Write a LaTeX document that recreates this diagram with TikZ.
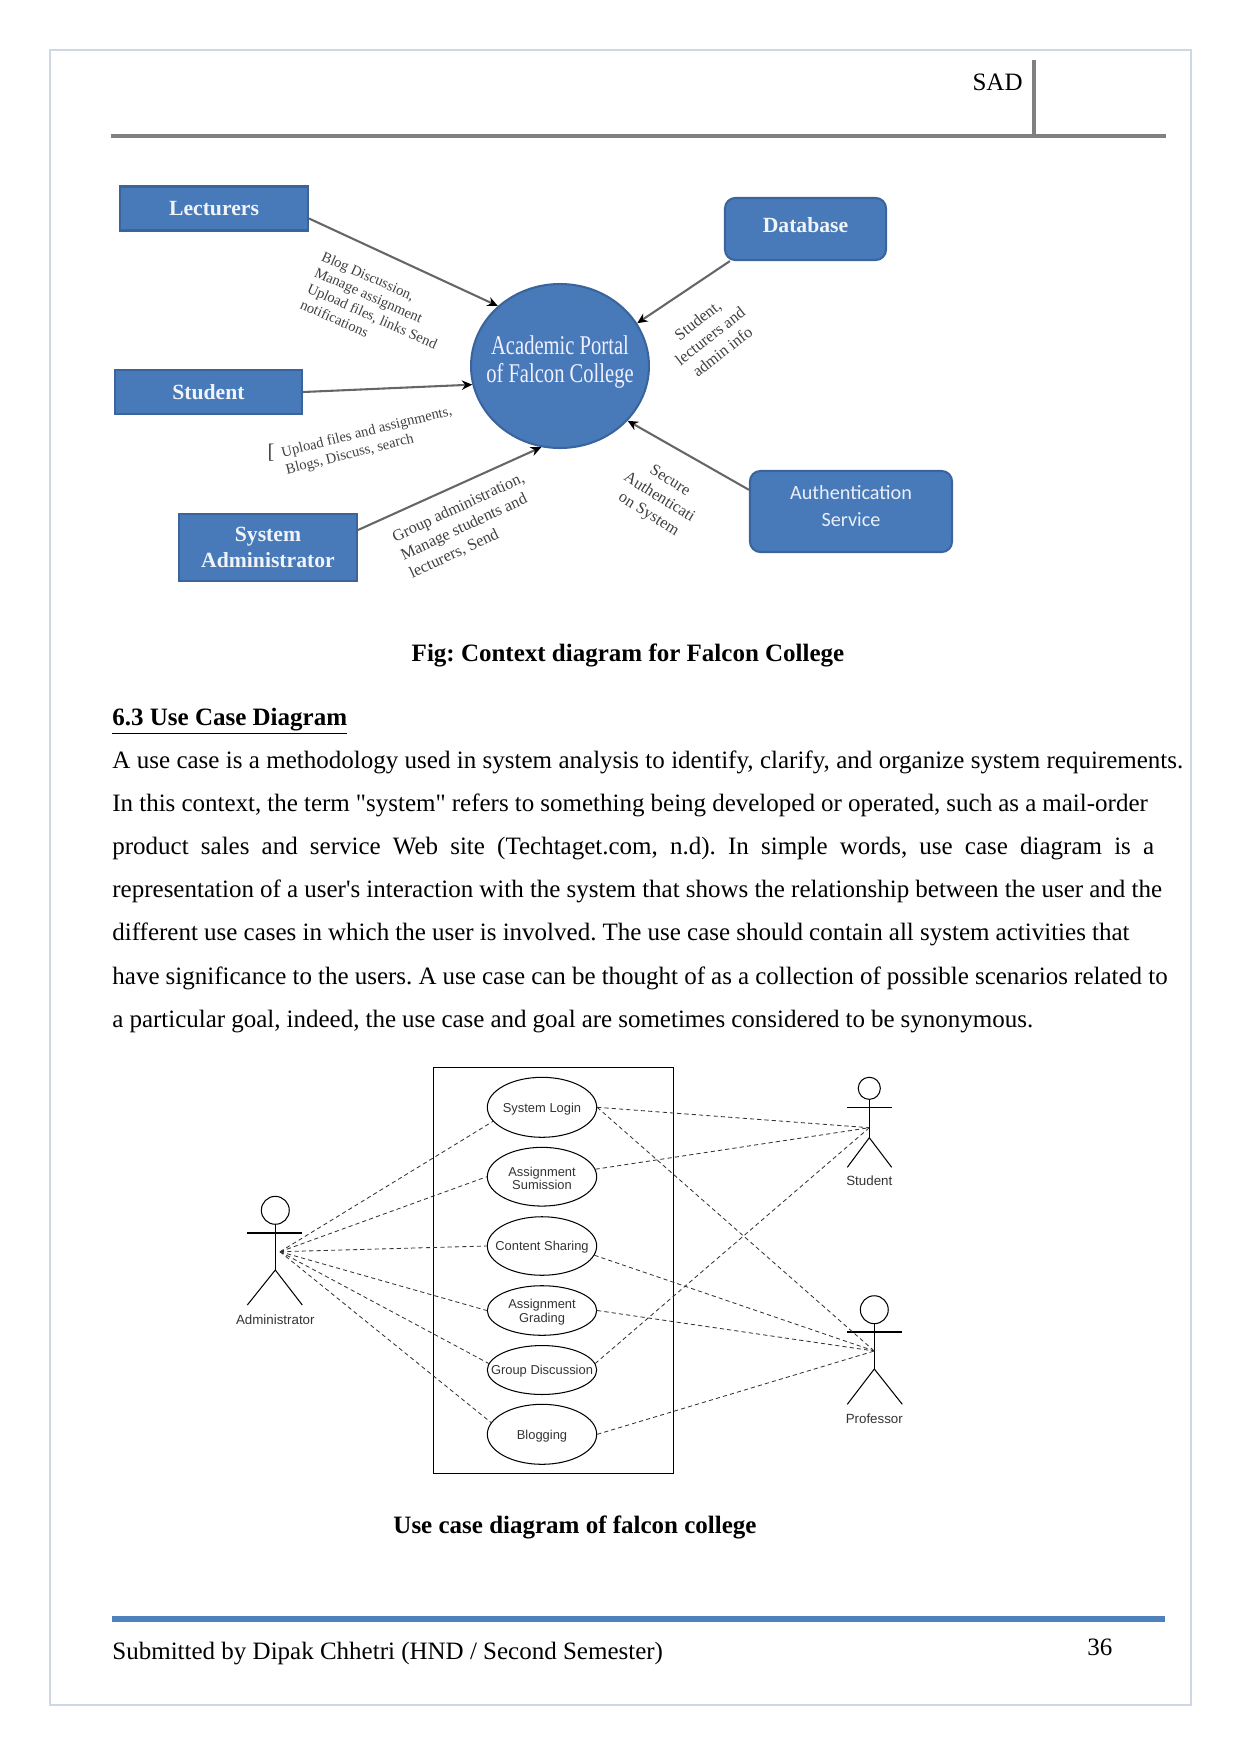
\documentclass[tikz,border=0pt]{standalone}
\usepackage{fontspec}
\setmainfont{Liberation Serif}[Ligatures=TeXOff]
\newfontfamily\portalfont[FakeStretch=0.76]{Liberation Serif}
\newfontfamily\umlfont{Liberation Sans}
\newfontfamily\authfont{Carlito}
\usetikzlibrary{arrows.meta,shapes.geometric}
\frenchspacing
\newcommand{\bodyline}[2]{\makebox[#1pt][s]{#2}}
\definecolor{boxblue}{RGB}{72,122,186}
\definecolor{boxedge}{RGB}{58,100,156}
\definecolor{pageedge}{RGB}{205,216,228}
\definecolor{rulegray}{RGB}{128,128,128}
\definecolor{barblue}{RGB}{79,129,189}
\tikzset{
  bodytext/.style={anchor=base west, inner sep=0pt, font=\fontsize{12}{14}\selectfont},
  captext/.style={inner sep=0pt, font=\fontsize{12}{14}\selectfont\bfseries},
  actorbox/.style={draw=boxedge, fill=boxblue, line width=1pt, text=white!92!boxblue, align=center, inner sep=0pt, font=\fontsize{10.4}{12.5}\selectfont\bfseries},
  servicebox/.style={actorbox, rounded corners=5pt},
  flowlabel/.style={align=left, inner sep=0pt, text=black!75, font=\fontsize{7}{8.4}\selectfont},
  flowlarge/.style={flowlabel, align=center, font=\fontsize{7.8}{9.6}\selectfont},
  flow/.style={->, draw=black!60, line width=1pt},
  usecase/.style={draw, ellipse, minimum width=52.5pt, inner sep=0pt, line width=0.5pt},
  casetext/.style={align=center, inner sep=0pt, yshift=-0.7pt, text=black!80, font=\umlfont\fontsize{6.2}{6.5}\selectfont},
  actorname/.style={inner sep=0pt, text=black!80, font=\umlfont\fontsize{6.4}{8}\selectfont},
  limb/.style={draw, line width=0.5pt},
  assoc/.style={draw=black!80, line width=0.4pt, dash pattern=on 2pt off 1.5pt}
}
\begin{document}
\begin{tikzpicture}[x=0.48pt, y=-0.48pt, >={Stealth[black, length=5pt, width=4.5pt]}]
\useasboundingbox (0,0) rectangle (1241,1754);
% page frame and running head
\draw[pageedge, line width=0.6pt] (50,50) rectangle (1191,1705);
\node[bodytext, anchor=base east] (sad) at (1023,90) {SAD};
\coordinate (headl) at (111,136);
\coordinate (headr) at (1166,136);
\coordinate (headt) at (1034,60);
\coordinate (headb) at (1034,136);
\draw[rulegray, line width=1.5pt] (headl) -- (headr);
\draw[rulegray, line width=1.5pt] (headt) -- (headb);

% context diagram
\node[ellipse, draw=boxedge, fill=boxblue, line width=1pt, minimum width=85.4pt, minimum height=78.7pt, inner sep=0pt,
  label={[align=center, yshift=1.8pt, text=blue!6!white, font=\portalfont\fontsize{13}{13.6}\selectfont]center:Academic Portal\\of Falcon College}] (p) at (560,366) {};
\node[actorbox, minimum width=90.2pt, minimum height=21.1pt] (l) at (214,208.5) {Lecturers};
\node[actorbox, minimum width=89.8pt, minimum height=21.1pt] (s) at (208.5,392) {Student};
\node[actorbox, minimum width=85.4pt, minimum height=32.2pt] (a) at (268,547.5) {System\\Administrator};
\node[servicebox, minimum width=77.3pt, minimum height=29.8pt] (d) at (805.5,229) {\raisebox{4pt}{Database}};
\node[servicebox, minimum width=97pt, minimum height=38.9pt,
  label={[align=center, yshift=2.5pt, text=white!88!boxblue, font=\authfont\fontsize{9.7}{13}\selectfont]center:Authentication\\Service}] (h) at (851,511.5) {};
\draw[flow] (l.-6) -- (p.136);
\draw[flow] (s.east) -- (p.192);
\draw[flow] (a.11) -- (p.257);
\draw[flow] (d.203) -- (p.29);
\draw[flow] (h.168) -- (p.-39.5);
\node[flowlabel, rotate=-24] (lt) at (376,308) {Blog Discussion,\\Manage assignment\\Upload files, links Send\\notifications};
\node[flowlabel, rotate=14] (st) at (369,441) {Upload files and assignments,\\Blogs, Discuss, search};
\node[flowlabel, font=\fontsize{10}{12}\selectfont] (sm) at (271,453) {[};
\node[flowlarge, rotate=25, align=left] (at) at (467,526) {Group administration,\\Manage students and\\lecturers, Send};
\node[flowlarge, rotate=38] (dt) at (710,336) {Student,\\lecturers and\\admin info};
\node[flowlarge, rotate=-32] (ht) at (659,498) {Secure\\Authenticati\\on System};
\node[captext] (cap1) at (628,655.5) {Fig: Context diagram for Falcon College};

% section text
\node[bodytext, font=\fontsize{12}{14}\selectfont\bfseries] (sec) at (112,725) {\underline{6.3 Use Case Diagram}};
\node[bodytext] (t1) at (112,768) {\bodyline{514}{A use case is a methodology used in system analysis to identify, clarify, and organize system requirements.}};
\node[bodytext] (t2) at (112,811) {\bodyline{497}{In this context, the term "system" refers to something being developed or operated, such as a mail-order}};
\node[bodytext] (t3) at (112,854) {\bodyline{500}{product sales and service Web site (Techtaget.com, n.d). In simple words, use case diagram is a}};
\node[bodytext] (t4) at (112,897) {\bodyline{503.8}{representation of a user's interaction with the system that shows the relationship between the user and the}};
\node[bodytext] (t5) at (112,940) {\bodyline{488.2}{different use cases in which the user is involved. The use case should contain all system activities that}};
\node[bodytext] (t6) at (112,984) {\bodyline{506.5}{have significance to the users. A use case can be thought of as a collection of possible scenarios related to}};
\node[bodytext] (t7) at (112,1027) {\bodyline{442}{a particular goal, indeed, the use case and goal are sometimes considered to be synonymous.}};

% use cases
\draw[line width=0.5pt] (433.3,1067.3) rectangle (673.7,1473.3);
\node[usecase, minimum height=28.8pt, label={[casetext]center:System Login}] (login) at (542,1107.3) {};
\node[usecase, minimum height=28.2pt, label={[casetext]center:Assignment\\Sumission}] (sub) at (542,1176.7) {};
\node[usecase, minimum height=28.1pt, label={[casetext]center:Content Sharing}] (share) at (542,1246) {};
\node[usecase, minimum height=23.8pt, label={[casetext]center:Assignment\\Grading}] (grade) at (542,1310.5) {};
\node[usecase, minimum height=23.5pt, label={[casetext]center:Group Discussion}] (group) at (542,1370) {};
\node[usecase, minimum height=28.8pt, label={[casetext]center:Blogging}] (blog) at (542,1434.3) {};

% administrator
\node[draw, circle, minimum size=13.4pt, inner sep=0pt, line width=0.5pt] (ah) at (275.3,1210.3) {};
\coordinate (aa1) at (247.3,1233);
\coordinate (aa2) at (302.3,1233);
\coordinate (ab) at (275.3,1270);
\coordinate (al1) at (247.3,1305);
\coordinate (al2) at (302.3,1305);
\coordinate (ac) at (280,1251.7);
\draw[limb] (ah) -- (ab);
\draw[limb] (aa1) -- (aa2);
\draw[limb] (al1) -- (ab) -- (al2);
\node[actorname] (an) at (275.3,1319.3) {Administrator};

% student
\node[draw, circle, minimum size=10.6pt, inner sep=0pt, line width=0.5pt] (uh) at (869.3,1088.3) {};
\coordinate (ua1) at (847.3,1107.3);
\coordinate (ua2) at (891.7,1107.3);
\coordinate (ub) at (869.3,1137.7);
\coordinate (ul1) at (847.3,1167.3);
\coordinate (ul2) at (891.7,1167.3);
\coordinate (uc) at (869.3,1127.7);
\draw[limb] (uh) -- (ub);
\draw[limb] (ua1) -- (ua2);
\draw[limb] (ul1) -- (ub) -- (ul2);
\node[actorname] (un) at (869.3,1180.7) {Student};

% professor
\node[draw, circle, minimum size=13.4pt, inner sep=0pt, line width=0.5pt] (rh) at (874.3,1309.7) {};
\coordinate (ra1) at (847.3,1332);
\coordinate (ra2) at (902.3,1332);
\coordinate (rb) at (874.3,1369);
\coordinate (rl1) at (847.3,1404.3);
\coordinate (rl2) at (902.3,1404.3);
\coordinate (rc) at (874.3,1351);
\draw[limb] (rh) -- (rb);
\draw[limb] (ra1) -- (ra2);
\draw[limb] (rl1) -- (rb) -- (rl2);
\node[actorname] (rn) at (874.3,1418.3) {Professor};

% associations
\draw[assoc] (ac) -- (login.196);
\draw[assoc] (ac) -- (sub.west);
\draw[assoc] (ac) -- (share.west);
\draw[assoc] (ac) -- (grade.west);
\draw[assoc] (ac) -- (group.173);
\draw[assoc] (ac) -- (blog.167);
\draw[assoc] (login.east) -- (uc);
\draw[assoc] (sub.8) -- (uc);
\draw[assoc] (group.7) -- (uc);
\draw[assoc] (login.east) -- (rc);
\draw[assoc] (share.-10) -- (rc);
\draw[assoc] (grade.east) -- (rc);
\draw[assoc] (blog.east) -- (rc);
\node[captext] (cap2) at (575,1527) {Use case diagram of falcon college};

% footer
\coordinate (footl) at (112,1619);
\coordinate (footr) at (1165,1619);
\draw[barblue, line width=2.6pt] (footl) -- (footr);
\node[bodytext] (foot) at (112,1659) {Submitted by Dipak Chhetri (HND / Second Semester)};
\node[bodytext] (pg) at (1087,1655) {36};
\end{tikzpicture}
\end{document}
